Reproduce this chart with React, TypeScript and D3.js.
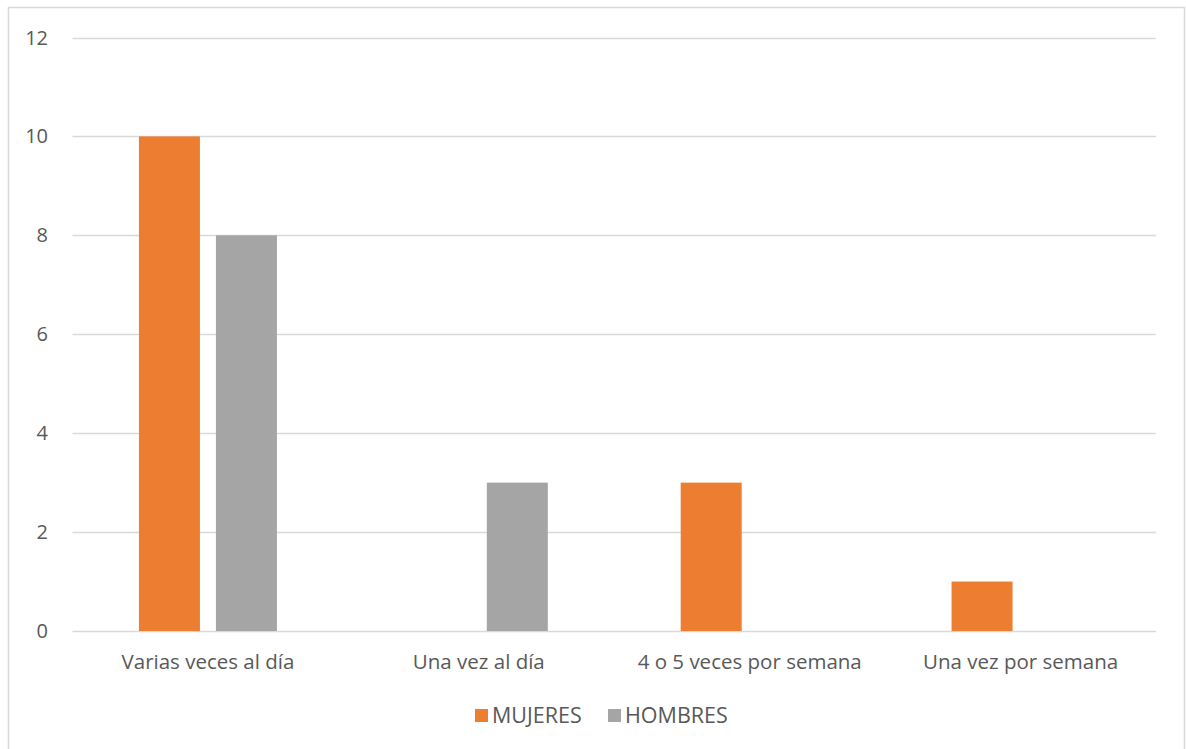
import React from "react";
import * as d3 from "d3";

const categories = ["Varias veces al día", "Una vez al día", "4 o 5 veces por semana", "Una vez por semana"];
const mujeres = [10, 0, 3, 1];
const hombres = [8, 3, 0, 0];
const yTicks = [0, 2, 4, 6, 8, 10, 12];
const seriesNames = ["MUJERES", "HOMBRES"];
const colors = ["#ED7D31", "#A5A5A5"];

export default function App() {
  const W = 1186, H = 749;
  const left = 72.5, right = 1156, top = 37.5, bottom = 631;
  const x0 = d3.scaleBand().domain(categories).range([left, right]).paddingInner(0).paddingOuter(0);
  const y = d3.scaleLinear().domain([0, 12]).range([bottom, top]);
  const bw = 61, gap = 16;
  const font = "'Open Sans', 'Noto Sans', sans-serif";
  const series = [mujeres, hombres];
  return (
    <svg width={W} height={H} style={{ position: "absolute", left: 0, top: 0 }} fontFamily={font}>
      <rect x={0} y={0} width={W} height={H} fill="#fff" />
      <rect x={8.5} y={7.5} width={1176} height={760} fill="none" stroke="#D9D9D9" strokeWidth={1.5} />
      {yTicks.map((t) => (
        <g key={t}>
          <line x1={left} x2={right} y1={Math.round(y(t)) + 0.5} y2={Math.round(y(t)) + 0.5} stroke="#D9D9D9" strokeWidth={1.3} />
          <text x={48} y={y(t)} dy="0.35em" textAnchor="end" fontSize={20} fill="#595959">{t}</text>
        </g>
      ))}
      {categories.map((c, i) => {
        const cx = x0(c)! + x0.bandwidth() / 2;
        return (
          <g key={c}>
            {series.map((s, j) => {
              const v = s[i];
              if (!v) return null;
              const bx = j === 0 ? cx - gap / 2 - bw : cx + gap / 2;
              return <rect key={j} x={bx} y={y(v)} width={bw} height={y(0) - y(v)} fill={colors[j]} />;
            })}
            <text x={cx} y={662} dy="0.35em" textAnchor="middle" fontSize={20.5} fill="#595959">{c}</text>
          </g>
        );
      })}
      {seriesNames.map((n, j) => {
        const lx = j === 0 ? 475 : 608;
        return (
          <g key={n}>
            <rect x={lx} y={709} width={13} height={13} fill={colors[j]} />
            <text x={lx + 17} y={715.5} dy="0.35em" fontSize={21.5} fill="#595959">{n}</text>
          </g>
        );
      })}
    </svg>
  );
}
